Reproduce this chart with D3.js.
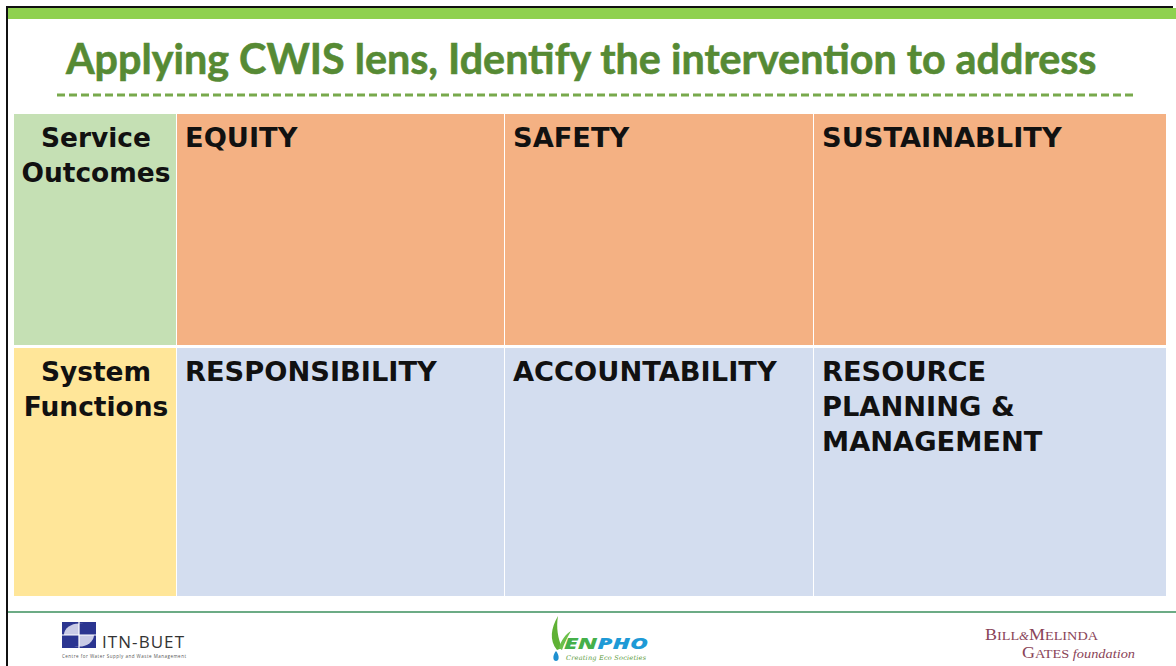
<!DOCTYPE html>
<html><head><meta charset="utf-8">
<script src="https://cdn.jsdelivr.net/npm/d3@7"></script>
<style>
html,body{margin:0;padding:0;background:#fff;}
svg{display:block;}
</style></head>
<body>
<svg id="chart" width="1176" height="666"></svg>
<script>
// ---- data ----
const titleText = "Applying CWIS lens, Identify the intervention to address";
const rowLabels = [["Service", "Outcomes"], ["System", "Functions"]];
const outcomeCells = [["EQUITY"], ["SAFETY"], ["SUSTAINABLITY"]];
const functionCells = [["RESPONSIBILITY"], ["ACCOUNTABILITY"], ["RESOURCE", "PLANNING &", "MANAGEMENT"]];
const columnKeys = ["label", "c1", "c2", "c3"];
const columnEdges = [14, 176, 504, 813, 1166];
const rowKeys = ["outcomes", "functions"];

// ---- layout ----
const svg = d3.select("#chart");
const labelFill = {outcomes: "#c5e0b4", functions: "#ffe699"};
const cellFill = {outcomes: "#f4b183", functions: "#d3ddef"};
const x0 = d3.scaleOrdinal().domain(columnKeys).range(columnEdges.slice(0, 4));
const x1 = d3.scaleOrdinal().domain(columnKeys).range(columnEdges.slice(1));
const y = d3.scaleOrdinal().domain(rowKeys).range([114, 348]);
const yEnd = d3.scaleOrdinal().domain(rowKeys).range([345, 596]);
const gap = 1;
const cellFont = "'DejaVu Sans', Lato, sans-serif";

// frame
svg.append("rect").attr("x", 0).attr("y", 0).attr("width", 1176).attr("height", 666).attr("fill", "#fff");
svg.append("line").attr("x1", 7).attr("x2", 1173).attr("y1", 7).attr("y2", 7).attr("stroke", "#111").attr("stroke-width", 2);
svg.append("line").attr("x1", 7).attr("x2", 7).attr("y1", 6).attr("y2", 666).attr("stroke", "#111").attr("stroke-width", 2);
svg.append("rect").attr("x", 8).attr("y", 8).attr("width", 1168).attr("height", 11).attr("fill", "#8fd14f");

// title
const title = svg.append("text").attr("x", 66).attr("y", 74)
  .attr("font-family", "Lato, 'Open Sans', sans-serif").attr("font-weight", 700)
  .attr("font-size", 36).attr("fill", "#568a34").attr("stroke", "#568a34").attr("stroke-width", 0.6)
  .text(titleText);
const tw = title.node().getComputedTextLength();
title.attr("font-size", 36 * 1031 / tw);

// dashed rule
svg.append("line").attr("x1", 57).attr("x2", 1133).attr("y1", 95).attr("y2", 95)
  .attr("stroke", "#78a94c").attr("stroke-width", 3).attr("stroke-dasharray", "8,4");

// measure cell font size so "RESPONSIBILITY" ~ 252px wide
const probe = svg.append("text").attr("font-family", cellFont).attr("font-weight", 700)
  .attr("font-size", 26).text(functionCells[0][0]);
const fs = 26 * 252 / probe.node().getComputedTextLength();
probe.remove();

// cells
const cells = [];
rowKeys.forEach((rk, ri) => {
  columnKeys.forEach((ck, ci) => {
    const lines = ci === 0 ? rowLabels[ri] : (ri === 0 ? outcomeCells : functionCells)[ci - 1];
    cells.push({rk: rk, ck: ck, ci: ci, lines: lines});
  });
});

const g = svg.append("g");
const cg = g.selectAll("g.cell").data(cells).join("g").attr("class", "cell");
cg.append("rect")
  .attr("x", d => x0(d.ck) + (d.ci === 0 ? 0 : gap))
  .attr("y", d => y(d.rk))
  .attr("width", d => x1(d.ck) - x0(d.ck) - (d.ci === 0 ? 0 : gap))
  .attr("height", d => yEnd(d.rk) - y(d.rk))
  .attr("fill", d => d.ci === 0 ? labelFill[d.rk] : cellFill[d.rk]);

cg.each(function(d) {
  const t = d3.select(this).append("text")
    .attr("font-family", cellFont).attr("font-weight", 700)
    .attr("font-size", d.ci === 0 ? fs * 0.97 : fs).attr("fill", "#111")
    .attr("text-anchor", d.ci === 0 ? "middle" : "start");
  const tx = d.ci === 0 ? (x0(d.ck) + x1(d.ck)) / 2 + 1 : x0(d.ck) + 9;
  d.lines.forEach((ln, i) => {
    t.append("tspan").attr("x", tx).attr("y", y(d.rk) + 33 + i * 35).text(ln);
  });
});

// footer rule
svg.append("line").attr("x1", 8).attr("x2", 1176).attr("y1", 612).attr("y2", 612)
  .attr("stroke", "#3b8f5c").attr("stroke-width", 1.5);

// ITN-BUET logo
const itn = svg.append("g");
itn.append("rect").attr("x", 62).attr("y", 622).attr("width", 34).attr("height", 26).attr("fill", "#2b3590");
itn.append("ellipse").attr("cx", 79).attr("cy", 635).attr("rx", 15).attr("ry", 11.5).attr("fill", "#c9cbe6");
itn.append("rect").attr("x", 79).attr("y", 623.5).attr("width", 15).attr("height", 11.5).attr("fill", "#2b3590");
itn.append("rect").attr("x", 64).attr("y", 635).attr("width", 15).attr("height", 11.5).attr("fill", "#2b3590");
itn.append("line").attr("x1", 62).attr("x2", 96).attr("y1", 635).attr("y2", 635).attr("stroke", "#fff").attr("stroke-width", 1.2);
itn.append("line").attr("x1", 79).attr("x2", 79).attr("y1", 622).attr("y2", 648).attr("stroke", "#fff").attr("stroke-width", 1.2);
itn.append("text").attr("x", 102).attr("y", 648).attr("font-family", "'Open Sans', sans-serif")
  .attr("font-size", 17).attr("fill", "#333").attr("textLength", 82).text("ITN-BUET");
itn.append("text").attr("x", 62).attr("y", 658).attr("font-family", "'Open Sans', sans-serif")
  .attr("font-size", 4.5).attr("fill", "#555").attr("textLength", 124).text("Centre for Water Supply and Waste Management");

// ENPHO logo
const en = svg.append("g");
en.append("path").attr("d", "M557,650 C549,640 551,628 558,616 C556,628 558,638 562,648 Z").attr("fill", "#5fb135");
en.append("path").attr("d", "M559,648 C561,640 566,634 571,631 C567,638 564,644 562,650 Z").attr("fill", "#6cc04a");
en.append("path").attr("d", "M556,651 C552,656 553,661 556,661 C559,661 560,656 556,651 Z").attr("fill", "#1e90d0");
const enT = en.append("text").attr("x", 564).attr("y", 649).attr("font-family", "'Open Sans', sans-serif")
  .attr("font-weight", 800).attr("font-style", "italic").attr("font-size", 15.5)
  .attr("textLength", 84).attr("lengthAdjust", "spacingAndGlyphs");
enT.append("tspan").attr("fill", "#45b04a").text("EN");
enT.append("tspan").attr("fill", "#1e9ad6").text("PHO");
en.append("text").attr("x", 566).attr("y", 659.5).attr("font-family", "'DejaVu Serif', serif")
  .attr("font-style", "italic").attr("font-size", 6.5).attr("fill", "#5a9a3a").attr("textLength", 80).text("Creating Eco Societies");

// Gates logo
const gf = svg.append("g").attr("fill", "#8a4458").attr("font-family", "'Liberation Serif', serif");
const l1 = gf.append("text").attr("x", 985).attr("y", 640).attr("textLength", 113).attr("lengthAdjust", "spacingAndGlyphs");
l1.append("tspan").attr("font-size", 17).text("B");
l1.append("tspan").attr("font-size", 13.5).text("ILL");
l1.append("tspan").attr("font-size", 12).attr("font-style", "italic").text("\u0026");
l1.append("tspan").attr("font-size", 17).text("M");
l1.append("tspan").attr("font-size", 13.5).text("ELINDA");
const l2 = gf.append("text").attr("x", 1022).attr("y", 658).attr("textLength", 113).attr("lengthAdjust", "spacingAndGlyphs");
l2.append("tspan").attr("font-size", 17).text("G");
l2.append("tspan").attr("font-size", 13.5).text("ATES");
l2.append("tspan").attr("font-size", 13.5).attr("font-style", "italic").text(" foundation");
</script>
</body></html>
